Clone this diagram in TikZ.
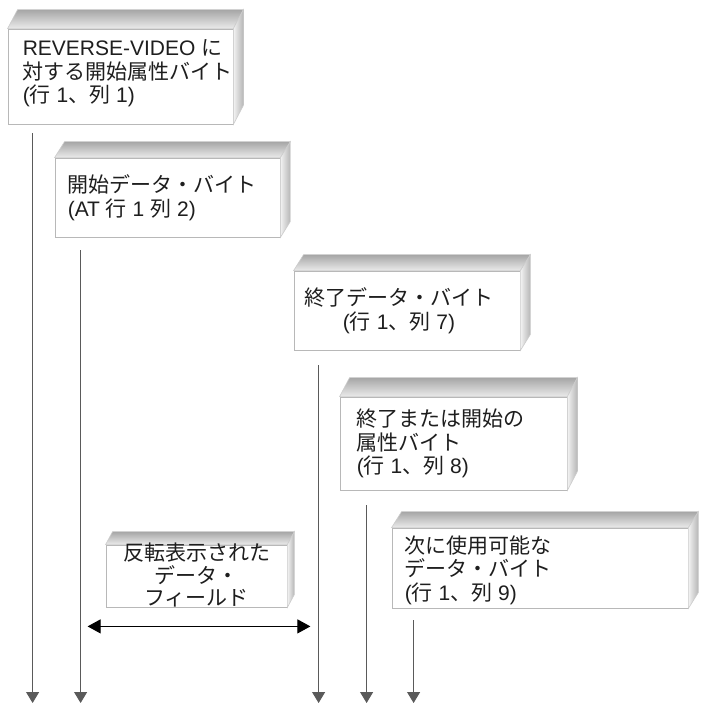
\documentclass[tikz,border=0pt]{standalone}
\usepackage{fontspec}
\setmainfont{Liberation Sans}
\newfontfamily\jp{Noto Sans CJK JP}
\usetikzlibrary{arrows.meta}
\definecolor{edgegray}{HTML}{B8B8B8}
\definecolor{linegray}{HTML}{5A5A5A}
\definecolor{txtcol}{HTML}{1E1E1E}
\tikzset{
  front/.style={draw=edgegray, line width=0.8pt, fill=white, inner sep=0pt},
  txt/.style={inner sep=0pt, text=txtcol, font=\fontsize{21}{23.5}\selectfont},
  vline/.style={draw=linegray, line width=1.1pt, -{Triangle[length=11pt,width=13pt]}},
  span/.style={draw=black, line width=1pt, {Triangle[length=13pt,width=14pt]}-{Triangle[length=13pt,width=14pt]}},
  topface/.style={top color=gray!70, bottom color=gray!16, draw=gray!40, line width=0.6pt},
  sideface/.style={left color=gray!10, right color=gray!58, draw=gray!40, line width=0.6pt}
}
\newcommand\bxfaces[3]{%
  \path[topface] (#1.north west) -- ([shift={(#2,-#3)}]#1.north west) -- ([shift={(#2,-#3)}]#1.north east) -- (#1.north east) -- cycle;
  \path[sideface] (#1.north east) -- ([shift={(#2,-#3)}]#1.north east) -- ([shift={(#2,-#3)}]#1.south east) -- (#1.south east) -- cycle;
}
\begin{document}
\begin{tikzpicture}[x=1pt,y=-1pt]
\useasboundingbox (0,0) rectangle (709,711);
\fill[white] (0,0) rectangle (709,711);

% boxes (front faces)
\node[front, minimum width=225pt, minimum height=95pt] (b1) at (120.5,76.5) {};
\node[front, minimum width=225pt, minimum height=79pt] (b2) at (167.5,197.5) {};
\node[front, minimum width=226pt, minimum height=79pt] (b3) at (407,310.5) {};
\node[front, minimum width=227pt, minimum height=93pt] (b4) at (453.5,443.5) {};
\node[front, minimum width=296pt, minimum height=80pt] (b5) at (540,568) {};
\node[front, minimum width=181pt, minimum height=62pt] (b6) at (196.5,576) {};

\bxfaces{b1}{10}{19}
\bxfaces{b2}{10}{16}
\bxfaces{b3}{10}{16}
\bxfaces{b4}{10}{19}
\bxfaces{b5}{10}{16}
\bxfaces{b6}{7}{13}

% texts
\node[txt, anchor=west, align=left] (t1) at ([shift={(15,-3)}]b1.west)
  {REVERSE-VIDEO {\jp に}\\{\jp 対する開始属性バイト}\\({\jp 行} 1{\jp 、列} 1)};
\node[txt, anchor=west, align=left] (t2) at ([xshift=13pt]b2.west)
  {{\jp 開始データ・バイト}\\(AT {\jp 行} 1 {\jp 列} 2)};
\node[txt, align=center] (t3) at ([xshift=-8pt]b3.center)
  {{\jp 終了データ・バイト}\\({\jp 行} 1{\jp 、列} 7)};
\node[txt, anchor=west, align=left] (t4) at ([xshift=17pt]b4.west)
  {{\jp 終了または開始の}\\{\jp 属性バイト}\\({\jp 行} 1{\jp 、列} 8)};
\node[txt, anchor=west, align=left] (t5) at ([shift={(13,2)}]b5.west)
  {{\jp 次に使用可能な}\\{\jp データ・バイト}\\({\jp 行} 1{\jp 、列} 9)};
\node[txt, align=center, font=\fontsize{21}{22.5}\selectfont] (t6) at ([yshift=1pt]b6.center)
  {{\jp 反転表示された}\\{\jp データ・}\\{\jp フィールド}};

% vertical arrows
\coordinate (bot) at (0,703);
\coordinate (s1) at ([shift={(25,9)}]b1.south west);
\coordinate (s2) at ([shift={(26,13)}]b2.south west);
\coordinate (s3) at ([shift={(25,15)}]b3.south west);
\coordinate (s4) at ([shift={(27,15)}]b4.south west);
\coordinate (s5) at ([shift={(22,12)}]b5.south west);
\draw[vline] (s1) -- (s1 |- bot);
\draw[vline] (s2) -- (s2 |- bot);
\draw[vline] (s3) -- (s3 |- bot);
\draw[vline] (s4) -- (s4 |- bot);
\draw[vline] (s5) -- (s5 |- bot);

% span arrow
\coordinate (l6) at ([shift={(-18,19)}]b6.south west);
\coordinate (r6) at ([shift={(23,19)}]b6.south east);
\draw[span] (l6) -- (r6);
\end{tikzpicture}
\end{document}
